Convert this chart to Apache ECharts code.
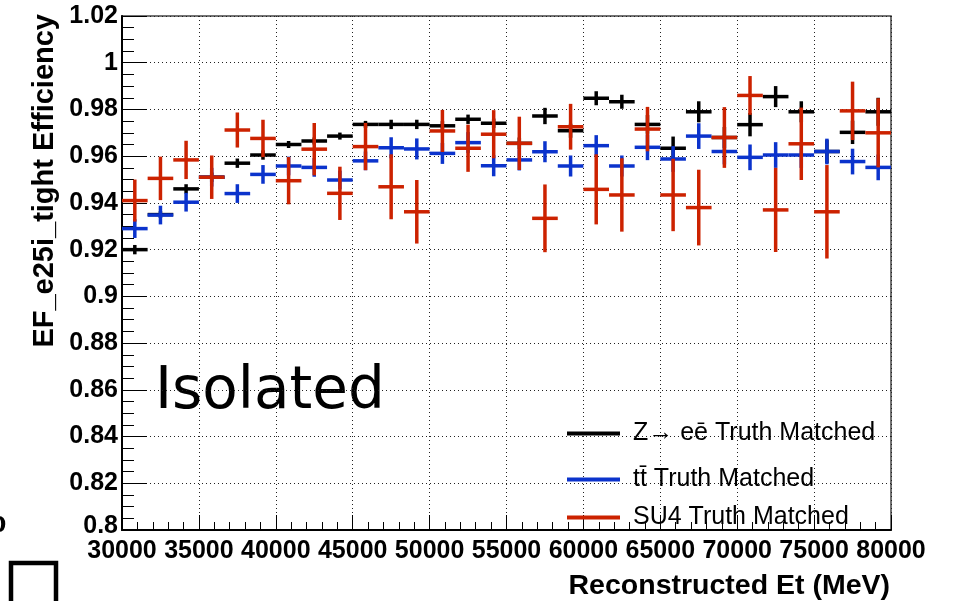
<!DOCTYPE html>
<html>
<head>
<meta charset="utf-8">
<script src="https://cdn.jsdelivr.net/npm/echarts@6/dist/echarts.min.js"></script>
<style>
html,body{margin:0;padding:0;background:#fff;}
#chart{width:957px;height:601px;}
</style>
</head>
<body>
<div id="chart"></div>
<script>
// Bin centres (MeV), bin half width
const binCenters = [30833, 32500, 34167, 35833, 37500, 39167, 40833, 42500, 44167, 45833,
  47500, 49167, 50833, 52500, 54167, 55833, 57500, 59167, 60833, 62500,
  64167, 65833, 67500, 69167, 70833, 72500, 74167, 75833, 77500, 79167];
const binHalfWidth = 833;

// Z -> ee Truth Matched
const zeeEff = [0.920, 0.935, 0.946, 0.951, 0.957, 0.9605, 0.965, 0.9665, 0.9686, 0.9736,
  0.9736, 0.9736, 0.973, 0.9758, 0.9741, 0.9655, 0.9772, 0.9709, 0.9848, 0.9833,
  0.9736, 0.9634, 0.979, 0.968, 0.9735, 0.9855, 0.979, 0.962, 0.9702, 0.979];
const zeeErr = [0.002, 0.0015, 0.002, 0.002, 0.002, 0.002, 0.0015, 0.0015, 0.0015, 0.0015,
  0.002, 0.002, 0.002, 0.002, 0.002, 0.0025, 0.0035, 0.003, 0.003, 0.003,
  0.004, 0.005, 0.0045, 0.0045, 0.005, 0.0045, 0.0045, 0.005, 0.005, 0.006];

// ttbar Truth Matched
const ttEff = [0.929, 0.9348, 0.9403, 0.951, 0.944, 0.9522, 0.9558, 0.9552, 0.9498, 0.958,
  0.9636, 0.9631, 0.9612, 0.9658, 0.9559, 0.9584, 0.9619, 0.9558, 0.9645, 0.9558,
  0.9638, 0.9588, 0.9686, 0.962, 0.9595, 0.9605, 0.9605, 0.962, 0.9577, 0.9552];
const ttErr = [0.004, 0.004, 0.004, 0.004, 0.004, 0.004, 0.004, 0.004, 0.004, 0.004,
  0.0045, 0.0045, 0.0045, 0.0045, 0.0045, 0.0045, 0.0045, 0.0045, 0.0045, 0.0045,
  0.0055, 0.0055, 0.0055, 0.0055, 0.0055, 0.0055, 0.0055, 0.0055, 0.0055, 0.0055];

// SU4 Truth Matched
const su4Eff = [0.941, 0.9505, 0.9584, 0.951, 0.9712, 0.9676, 0.9495, 0.963, 0.9441, 0.9641,
  0.9469, 0.9362, 0.9708, 0.9634, 0.9694, 0.9655, 0.9334, 0.9726, 0.9458, 0.9434,
  0.9716, 0.9434, 0.938, 0.968, 0.986, 0.937, 0.9653, 0.9362, 0.9794, 0.970];
const su4Err = [0.009, 0.0093, 0.0082, 0.0093, 0.0075, 0.008, 0.0101, 0.0112, 0.0114, 0.0101,
  0.0139, 0.0136, 0.009, 0.0101, 0.0103, 0.0114, 0.0145, 0.0098, 0.015, 0.0157,
  0.0095, 0.0155, 0.0162, 0.013, 0.0083, 0.018, 0.0155, 0.02, 0.0125, 0.0148];

const seriesNames = ['Z\u2192 e\u0113 Truth Matched', 't\u0074\u0304 Truth Matched', 'SU4 Truth Matched'];
const seriesColors = ['#000000', '#0b33cc', '#cc2200'];

const xMin = 30000, xMax = 80000, xStep = 5000;
const yMin = 0.8, yMax = 1.02, yStep = 0.02;

function toData(vals, errs) {
  return binCenters.map((x, i) => [x, vals[i], errs[i]]);
}

function renderItem(params, api) {
  const x = api.value(0), y = api.value(1), e = api.value(2);
  const pL = api.coord([x - binHalfWidth, y]);
  const pR = api.coord([x + binHalfWidth, y]);
  const pT = api.coord([x, y + e]);
  const pB = api.coord([x, y - e]);
  const color = api.visual('color');
  return {
    type: 'group',
    children: [
      {type: 'line', shape: {x1: pL[0], y1: pL[1], x2: pR[0], y2: pR[1]}, style: {stroke: color, lineWidth: 3.5}},
      {type: 'line', shape: {x1: pT[0], y1: pT[1], x2: pB[0], y2: pB[1]}, style: {stroke: color, lineWidth: 3.5}}
    ]
  };
}

const allData = [toData(zeeEff, zeeErr), toData(ttEff, ttErr), toData(su4Eff, su4Err)];
const legendTops = [420, 466, 504];

const chart = echarts.init(document.getElementById('chart'), null, {renderer: 'canvas'});
const tickFont = 'Liberation Sans';
chart.setOption({
  animation: false,
  backgroundColor: '#ffffff',
  grid: {left: 122, right: 66, top: 16, bottom: 71, show: true, borderColor: '#444', borderWidth: 1.5, backgroundColor: 'transparent'},
  xAxis: {
    type: 'value', min: xMin, max: xMax, interval: xStep,
    axisLine: {show: true, onZero: false, lineStyle: {color: '#000', width: 2}},
    axisTick: {show: true, inside: true, length: 15, lineStyle: {color: '#000', width: 1}},
    minorTick: {show: true, splitNumber: 5, length: 8, lineStyle: {color: '#000', width: 1}},
    splitLine: {show: true, lineStyle: {color: '#222', type: [1, 3], width: 1}},
    axisLabel: {color: '#000', fontFamily: tickFont, fontWeight: 'bold', fontSize: 25, margin: 9,
      formatter: v => String(v)}
  },
  yAxis: {
    type: 'value', min: yMin, max: yMax, interval: yStep,
    axisLine: {show: true, onZero: false, lineStyle: {color: '#000', width: 2}},
    axisTick: {show: true, inside: true, length: 25, lineStyle: {color: '#000', width: 1}},
    minorTick: {show: true, splitNumber: 4, length: 12, lineStyle: {color: '#000', width: 1}},
    splitLine: {show: true, lineStyle: {color: '#222', type: [1, 3], width: 1}},
    axisLabel: {color: '#000', fontFamily: tickFont, fontWeight: 'bold', fontSize: 25, margin: 4,
      formatter: v => {
        const s = String(parseFloat(v.toFixed(2)));
        return Math.abs(v - yMin) < 1e-9 ? '{low|' + s + '}' : s;
      },
      rich: {low: {fontFamily: tickFont, fontWeight: 'bold', fontSize: 25, color: '#000', padding: [0, 0, 8, 0]}}
    }
  },
  legend: seriesNames.map((n, i) => ({
    left: 567, top: legendTops[i], orient: 'vertical', padding: 0,
    itemWidth: 53, itemHeight: 4, icon: 'rect',
    selectedMode: false,
    data: [{name: n, itemStyle: {color: seriesColors[i]}}],
    textStyle: {color: '#000', fontFamily: 'Liberation Sans', fontSize: 25, lineHeight: 27, padding: [0, 0, 0, 8]}
  })),
  series: seriesNames.map((n, i) => ({
    name: n, type: 'custom', renderItem: renderItem,
    itemStyle: {color: seriesColors[i]},
    encode: {x: 0, y: 1},
    data: allData[i], z: 2 + i
  })),
  graphic: [
    {type: 'text', left: 155, top: 364, style: {text: 'Isolated', fill: '#000', font: '58px "DejaVu Sans"'}},
    {type: 'text', x: 45, y: 14, rotation: Math.PI / 2,
      style: {text: 'EF_e25i_tight Efficiency', fill: '#000', font: 'bold 29px "Liberation Sans"', align: 'right', verticalAlign: 'middle'}},
    {type: 'text', x: 890, y: 586,
      style: {text: 'Reconstructed Et (MeV)', fill: '#000', font: 'bold 28.5px "Liberation Sans"', align: 'right', verticalAlign: 'middle'}},
    {type: 'text', x: -9, y: 526,
      style: {text: '0', fill: '#000', font: 'bold 22px "DejaVu Sans"', align: 'left', verticalAlign: 'middle'}},
    {type: 'rect', shape: {x: 11, y: 563, width: 45, height: 50},
      style: {fill: 'none', stroke: '#000', lineWidth: 4.5}}
  ]
});
</script>
</body>
</html>
